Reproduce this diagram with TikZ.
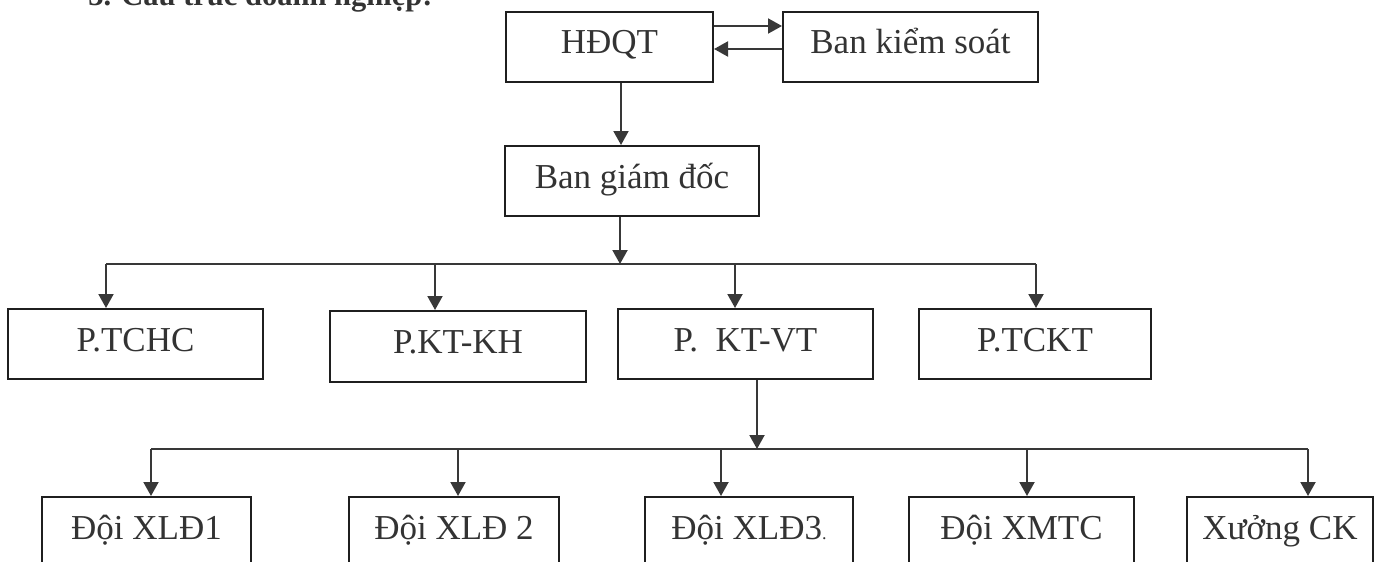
\documentclass[tikz,border=0pt]{standalone}
\usepackage{fontspec}
\setmainfont{Liberation Serif}
\usetikzlibrary{arrows.meta}
\tikzset{
  box/.style={draw=black!88, line width=1pt, rectangle, inner sep=0pt, minimum height=35pt,
    font=\fontsize{17.5}{21}\selectfont, text height=0.7em, text depth=0em, text=black!80},
  conn/.style={draw=black!78, line width=1pt},
  arr/.style={conn, -{Triangle[length=7pt,width=7.5pt]}},
}
\begin{document}
\begin{tikzpicture}[x=0.5pt,y=-0.5pt]
\useasboundingbox (0,0) rectangle (1376,562);
\begin{scope}
\clip (0,0) rectangle (1376,562);
% cut-off heading (cropped in the reference)
\node[anchor=base west, inner sep=0pt, font=\fontsize{15.25}{18}\selectfont\bfseries, text=black!80] (head) at (88,5) {3. Cấu trúc doanh nghiệp:};

% level 1
\node[box, minimum width=103.5pt] (hdqt) at (609.5,47) {HĐQT};
\node[box, minimum width=127.5pt] (bks) at (910.5,47) {Ban kiểm soát};
\node[box, minimum width=127pt] (bgd) at (632,181) {Ban giám đốc};

% level 2
\node[box, minimum width=127.5pt] (ptchc) at (135.5,344) {P.TCHC};
\node[box, minimum width=128pt, minimum height=35.5pt] (pktkh) at (458,346.5) {P.KT-KH};
\node[box, minimum width=127.5pt] (pktvt) at (745.5,344) {P.\ \ KT-VT};
\node[box, minimum width=116pt] (ptckt) at (1035,344) {P.TCKT};

% level 3
\node[box, minimum width=104.5pt] (x1) at (146.5,532) {Đội XLĐ1};
\node[box, minimum width=105pt] (x2) at (454,532) {Đội XLĐ 2};
\node[box, minimum width=104pt] (x3) at (749,532) {Đội XLĐ3{\fontsize{9}{10}\selectfont.}};
\node[box, minimum width=112.5pt] (xm) at (1021.5,532) {Đội XMTC};
\node[box, minimum width=93pt] (xck) at (1280,532) {Xưởng CK};

% HDQT <-> BKS
\draw[arr] ([yshift=-7.5pt]hdqt.north east) -- ([yshift=-7.5pt]bks.north west);
\draw[arr] ([yshift=-19pt]bks.north west) -- ([yshift=-19pt]hdqt.north east);
% HDQT -> BGD
\draw[arr] ([xshift=5.75pt]hdqt.south) -- ([xshift=5.75pt]hdqt.south |- bgd.north);

% bus 1
\coordinate (j1) at (620,264);
\coordinate (d1) at (106,264);
\coordinate (d2) at (435,264);
\coordinate (d3) at (735,264);
\coordinate (d4) at (1036,264);
\draw[arr] (bgd.south -| j1) -- (j1);
\draw[conn] (d1) -- (d4);
\draw[arr] (d1) -- (d1 |- ptchc.north);
\draw[arr] (d2) -- (d2 |- pktkh.north);
\draw[arr] (d3) -- (d3 |- pktvt.north);
\draw[arr] (d4) -- (d4 |- ptckt.north);

% bus 2
\coordinate (j2) at (757,449);
\coordinate (e1) at (151,449);
\coordinate (e2) at (458,449);
\coordinate (e3) at (721,449);
\coordinate (e4) at (1027,449);
\coordinate (e5) at (1308,449);
\draw[arr] (pktvt.south -| j2) -- (j2);
\draw[conn] (e1) -- (e5);
\draw[arr] (e1) -- (e1 |- x1.north);
\draw[arr] (e2) -- (e2 |- x2.north);
\draw[arr] (e3) -- (e3 |- x3.north);
\draw[arr] (e4) -- (e4 |- xm.north);
\draw[arr] (e5) -- (e5 |- xck.north);
\end{scope}
\end{tikzpicture}
\end{document}
